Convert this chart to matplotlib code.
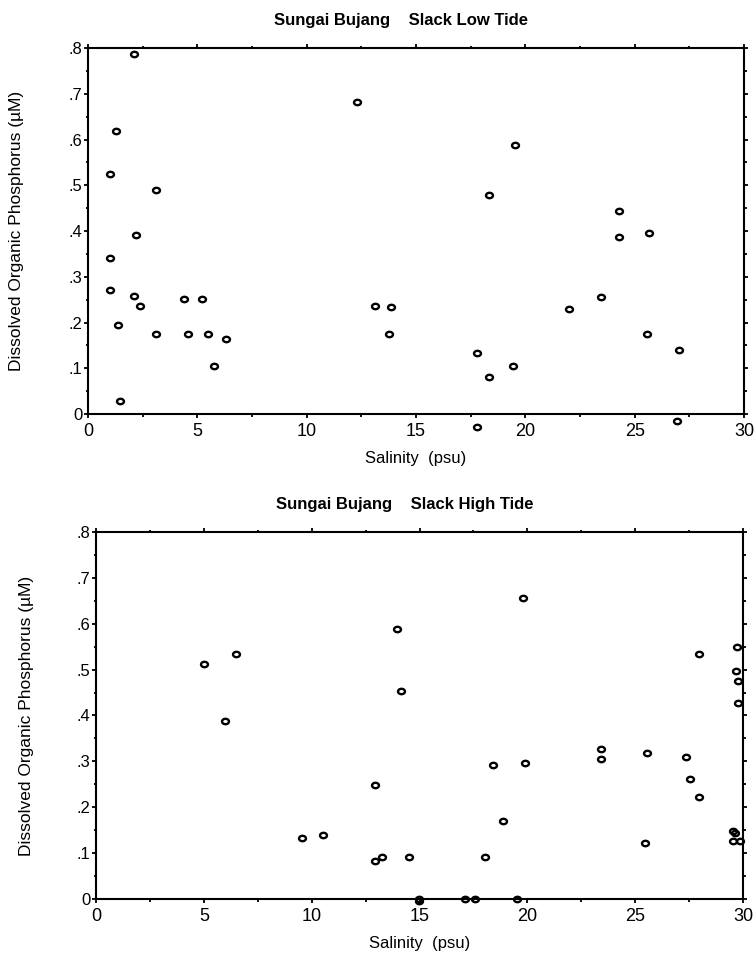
import matplotlib.pyplot as plt
import numpy as np
from matplotlib.path import Path
from matplotlib.ticker import MultipleLocator, FuncFormatter

plt.rcParams['font.family'] = ['Liberation Sans', 'DejaVu Sans']

# slack low tide
low_sal = [2.10, 1.28, 1.00, 3.11, 2.19, 1.00, 1.00, 2.10, 2.39, 4.39, 5.20, 1.37,
           3.11, 4.59, 5.50, 6.31, 5.78, 1.48, 12.30, 13.12, 13.85, 13.78, 19.52,
           18.34, 17.79, 18.34, 19.45, 17.79, 21.99, 23.46, 24.28, 24.28, 25.67,
           25.56, 27.04, 26.95]
low_dop = [0.787, 0.619, 0.524, 0.489, 0.391, 0.342, 0.272, 0.259, 0.237, 0.251,
           0.251, 0.194, 0.176, 0.176, 0.176, 0.163, 0.104, 0.028, 0.681, 0.237,
           0.233, 0.176, 0.589, 0.479, 0.133, 0.081, 0.104, -0.028, 0.229, 0.255,
           0.444, 0.388, 0.395, 0.176, 0.141, -0.016]

# slack high tide
high_sal = [5.01, 6.49, 5.99, 9.56, 10.52, 12.93, 12.93, 13.24, 13.94, 14.12,
            14.52, 14.99, 14.99, 17.12, 17.59, 18.05, 18.42, 18.87, 19.52, 19.81,
            19.89, 23.41, 23.41, 25.45, 25.54, 27.35, 27.54, 27.96, 27.96, 29.53,
            29.64, 29.53, 29.86, 29.73, 29.67, 29.78, 29.78]
high_dop = [0.513, 0.533, 0.387, 0.134, 0.139, 0.248, 0.082, 0.091, 0.589, 0.453,
            0.091, 0.000, -0.004, 0.000, 0.000, 0.091, 0.291, 0.169, 0.000, 0.655,
            0.296, 0.326, 0.305, 0.121, 0.318, 0.309, 0.261, 0.533, 0.222, 0.148,
            0.143, 0.126, 0.126, 0.549, 0.498, 0.475, 0.427]

x_ticks = [0, 5, 10, 15, 20, 25, 30]
y_ticks = [0, 0.1, 0.2, 0.3, 0.4, 0.5, 0.6, 0.7, 0.8]

circ = Path.unit_circle()
ellipse = Path(circ.vertices * np.array([1.0, 0.78]), circ.codes)


def ytick_fmt(v, pos):
    if abs(v) < 1e-9:
        return '0'
    return ('%.1f' % v).lstrip('0')


def draw_panel(ax, sal, dop, title, title_x, title_y, ylab_x):
    ax.plot(sal, dop, linestyle='none', marker=ellipse, ms=5.0, mew=1.7,
            mfc='none', mec='black', clip_on=False, zorder=3)
    ax.set_xlim(0, 30)
    ax.set_ylim(0, 0.8)
    ax.set_xticks(x_ticks)
    ax.set_yticks(y_ticks)
    ax.xaxis.set_minor_locator(MultipleLocator(2.5))
    ax.yaxis.set_minor_locator(MultipleLocator(0.05))
    ax.yaxis.set_major_formatter(FuncFormatter(ytick_fmt))
    for s in ax.spines.values():
        s.set_linewidth(1.5)
    ax.tick_params(which='both', direction='out', top=True, right=True,
                   width=1.3, colors='black')
    ax.tick_params(which='major', length=3.2)
    ax.tick_params(which='minor', length=1.8)
    ax.tick_params(axis='x', which='major', labelsize=13, pad=3)
    ax.tick_params(axis='y', which='major', labelsize=12, pad=1)
    ax.set_xlabel('Salinity  (psu)', fontsize=12, labelpad=8)
    ax.set_ylabel('Dissolved Organic Phosphorus (\u00b5M)', fontsize=12.5)
    ax.yaxis.set_label_coords(ylab_x, 0.5)
    fig.text(title_x, title_y, title, ha='center', va='center',
             fontsize=12, fontweight='bold')


fig = plt.figure(figsize=(7.56, 9.58), dpi=100)
ax1 = fig.add_axes([0.1164, 0.5678, 0.8677, 0.3821])
ax2 = fig.add_axes([0.1270, 0.0616, 0.8558, 0.3831])

draw_panel(ax1, low_sal, low_dop, 'Sungai Bujang    Slack Low Tide',
           401 / 756, 1 - 20 / 958, -0.097)
draw_panel(ax2, high_sal, high_dop, 'Sungai Bujang    Slack High Tide',
           405 / 756, 1 - 505 / 958, -0.096)

fig.savefig('out.png', dpi=100)
